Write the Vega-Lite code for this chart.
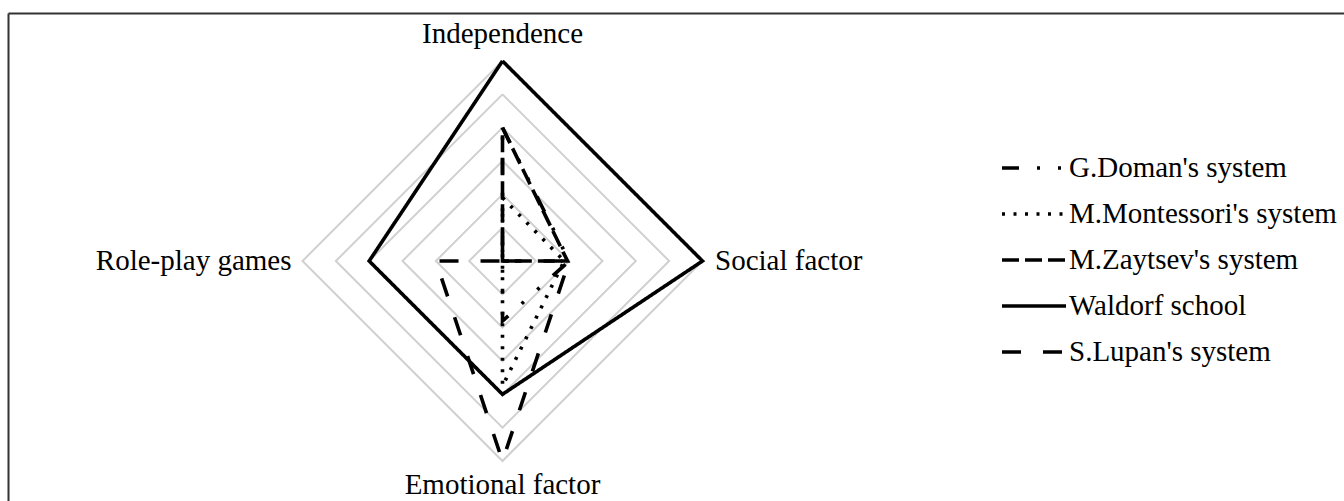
{
  "$schema": "https://vega.github.io/schema/vega-lite/v6.json",
  "width": 1336,
  "height": 488,
  "padding": {"left": 8, "top": 13, "right": 0, "bottom": 0},
  "autosize": {"type": "none"},
  "background": "white",
  "config": {
    "view": {"stroke": null},
    "font": "Liberation Serif",
    "legend": {
      "symbolType": "M-2,0H2",
      "symbolSize": 1024,
      "symbolStrokeWidth": 3.6,
      "symbolStrokeColor": "black",
      "labelFont": "Liberation Serif",
      "labelFontSize": 29,
      "labelColor": "black",
      "labelOffset": 17,
      "labelLimit": 400,
      "rowPadding": 13,
      "padding": 0
    }
  },
  "datasets": {
    "series": [
      {"series": "G.Doman's system", "axis": "Independence", "ord": 0, "value": 4},
      {"series": "G.Doman's system", "axis": "Social factor", "ord": 1, "value": 2},
      {"series": "G.Doman's system", "axis": "Emotional factor", "ord": 2, "value": 1.8},
      {"series": "G.Doman's system", "axis": "Role-play games", "ord": 3, "value": 0},
      {"series": "G.Doman's system", "axis": "Independence", "ord": 4, "value": 4},
      {"series": "M.Montessori's system", "axis": "Independence", "ord": 0, "value": 1.9},
      {"series": "M.Montessori's system", "axis": "Social factor", "ord": 1, "value": 1.85},
      {"series": "M.Montessori's system", "axis": "Emotional factor", "ord": 2, "value": 3.75},
      {"series": "M.Montessori's system", "axis": "Role-play games", "ord": 3, "value": 0},
      {"series": "M.Montessori's system", "axis": "Independence", "ord": 4, "value": 1.9},
      {"series": "M.Zaytsev's system", "axis": "Independence", "ord": 0, "value": 4},
      {"series": "M.Zaytsev's system", "axis": "Social factor", "ord": 1, "value": 1.95},
      {"series": "M.Zaytsev's system", "axis": "Emotional factor", "ord": 2, "value": 0},
      {"series": "M.Zaytsev's system", "axis": "Role-play games", "ord": 3, "value": 0},
      {"series": "M.Zaytsev's system", "axis": "Independence", "ord": 4, "value": 4},
      {"series": "Waldorf school", "axis": "Independence", "ord": 0, "value": 6},
      {"series": "Waldorf school", "axis": "Social factor", "ord": 1, "value": 6},
      {"series": "Waldorf school", "axis": "Emotional factor", "ord": 2, "value": 4},
      {"series": "Waldorf school", "axis": "Role-play games", "ord": 3, "value": 4},
      {"series": "Waldorf school", "axis": "Independence", "ord": 4, "value": 6},
      {"series": "S.Lupan's system", "axis": "Independence", "ord": 0, "value": 0},
      {"series": "S.Lupan's system", "axis": "Social factor", "ord": 1, "value": 2},
      {"series": "S.Lupan's system", "axis": "Emotional factor", "ord": 2, "value": 6},
      {"series": "S.Lupan's system", "axis": "Role-play games", "ord": 3, "value": 2},
      {"series": "S.Lupan's system", "axis": "Independence", "ord": 4, "value": 0}
    ],
    "grid": [
      {"lvl": 1, "ord": 0}, {"lvl": 1, "ord": 1}, {"lvl": 1, "ord": 2}, {"lvl": 1, "ord": 3}, {"lvl": 1, "ord": 4},
      {"lvl": 2, "ord": 0}, {"lvl": 2, "ord": 1}, {"lvl": 2, "ord": 2}, {"lvl": 2, "ord": 3}, {"lvl": 2, "ord": 4},
      {"lvl": 3, "ord": 0}, {"lvl": 3, "ord": 1}, {"lvl": 3, "ord": 2}, {"lvl": 3, "ord": 3}, {"lvl": 3, "ord": 4},
      {"lvl": 4, "ord": 0}, {"lvl": 4, "ord": 1}, {"lvl": 4, "ord": 2}, {"lvl": 4, "ord": 3}, {"lvl": 4, "ord": 4},
      {"lvl": 5, "ord": 0}, {"lvl": 5, "ord": 1}, {"lvl": 5, "ord": 2}, {"lvl": 5, "ord": 3}, {"lvl": 5, "ord": 4},
      {"lvl": 6, "ord": 0}, {"lvl": 6, "ord": 1}, {"lvl": 6, "ord": 2}, {"lvl": 6, "ord": 3}, {"lvl": 6, "ord": 4}
    ],
    "labels": [
      {"axis": "Independence", "ord": 0, "r": 6},
      {"axis": "Social factor", "ord": 1, "r": 6},
      {"axis": "Emotional factor", "ord": 2, "r": 6},
      {"axis": "Role-play games", "ord": 3, "r": 6}
    ]
  },
  "layer": [
    {
      "data": {"name": "grid"},
      "transform": [
        {"calculate": "datum.lvl * sin(datum.ord * PI / 2)", "as": "px"},
        {"calculate": "datum.lvl * cos(datum.ord * PI / 2)", "as": "py"}
      ],
      "mark": {"type": "line", "color": "#d0d0d0", "strokeWidth": 2},
      "encoding": {
        "x": {"field": "px", "type": "quantitative", "scale": {"domain": [-14.835, 25.245], "nice": false, "zero": false}, "axis": {"orient": "top", "domain": true, "domainColor": "#333", "domainWidth": 2, "ticks": false, "labels": false, "grid": false, "title": null}},
        "y": {"field": "py", "type": "quantitative", "scale": {"domain": [-7.2, 7.44], "nice": false, "zero": false}, "axis": {"orient": "left", "domain": true, "domainColor": "#333", "domainWidth": 2, "ticks": false, "labels": false, "grid": false, "title": null}},
        "detail": {"field": "lvl"},
        "order": {"field": "ord"}
      }
    },
    {
      "data": {"name": "series"},
      "transform": [
        {"calculate": "datum.value * sin(datum.ord * PI / 2)", "as": "px"},
        {"calculate": "datum.value * cos(datum.ord * PI / 2)", "as": "py"}
      ],
      "mark": {"type": "line", "color": "black", "strokeWidth": 3.6},
      "encoding": {
        "x": {"field": "px", "type": "quantitative"},
        "y": {"field": "py", "type": "quantitative"},
        "detail": {"field": "series"},
        "order": {"field": "ord"},
        "strokeDash": {
          "field": "series",
          "type": "nominal",
          "scale": {
            "domain": ["G.Doman's system", "M.Montessori's system", "M.Zaytsev's system", "Waldorf school", "S.Lupan's system"],
            "range": [[17, 18, 3, 18, 3, 18], [3, 8.5], [17, 6], [1, 0], [19, 22]]
          },
          "legend": {"title": null, "orient": "none", "legendX": 1008, "legendY": 137}
        }
      }
    },
    {
      "data": {"name": "labels"},
      "transform": [
        {"filter": "datum.ord == 0"},
        {"calculate": "datum.r * sin(datum.ord * PI / 2)", "as": "px"},
        {"calculate": "datum.r * cos(datum.ord * PI / 2)", "as": "py"}
      ],
      "mark": {"type": "text", "align": "center", "baseline": "alphabetic", "dy": -17.7, "fontSize": 29, "font": "Liberation Serif", "color": "black"},
      "encoding": {"x": {"field": "px", "type": "quantitative"}, "y": {"field": "py", "type": "quantitative"}, "text": {"field": "axis"}}
    },
    {
      "data": {"name": "labels"},
      "transform": [
        {"filter": "datum.ord == 1"},
        {"calculate": "datum.r * sin(datum.ord * PI / 2)", "as": "px"},
        {"calculate": "datum.r * cos(datum.ord * PI / 2)", "as": "py"}
      ],
      "mark": {"type": "text", "align": "left", "baseline": "alphabetic", "dx": 12.5, "dy": 9, "fontSize": 29, "font": "Liberation Serif", "color": "black"},
      "encoding": {"x": {"field": "px", "type": "quantitative"}, "y": {"field": "py", "type": "quantitative"}, "text": {"field": "axis"}}
    },
    {
      "data": {"name": "labels"},
      "transform": [
        {"filter": "datum.ord == 2"},
        {"calculate": "datum.r * sin(datum.ord * PI / 2)", "as": "px"},
        {"calculate": "datum.r * cos(datum.ord * PI / 2)", "as": "py"}
      ],
      "mark": {"type": "text", "align": "center", "baseline": "alphabetic", "dy": 33, "fontSize": 29, "font": "Liberation Serif", "color": "black"},
      "encoding": {"x": {"field": "px", "type": "quantitative"}, "y": {"field": "py", "type": "quantitative"}, "text": {"field": "axis"}}
    },
    {
      "data": {"name": "labels"},
      "transform": [
        {"filter": "datum.ord == 3"},
        {"calculate": "datum.r * sin(datum.ord * PI / 2)", "as": "px"},
        {"calculate": "datum.r * cos(datum.ord * PI / 2)", "as": "py"}
      ],
      "mark": {"type": "text", "align": "right", "baseline": "alphabetic", "dx": -11, "dy": 9, "fontSize": 29, "font": "Liberation Serif", "color": "black"},
      "encoding": {"x": {"field": "px", "type": "quantitative"}, "y": {"field": "py", "type": "quantitative"}, "text": {"field": "axis"}}
    }
  ]
}
